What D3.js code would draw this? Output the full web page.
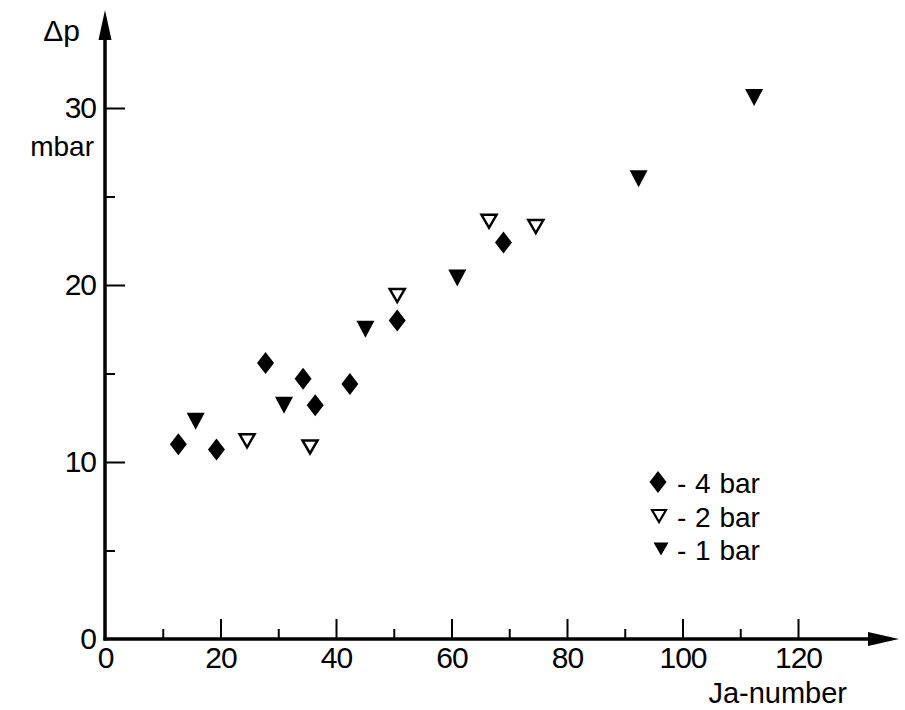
<html>
<head>
<meta charset="utf-8">
<title>Δp vs Ja-number</title>
<style>
  body { margin: 0; background: #fff; }
  text { font-family: "Liberation Sans", Arial, sans-serif; fill: #000; }
</style>
</head>
<body>
<script src="https://cdn.jsdelivr.net/npm/d3@7/dist/d3.min.js"></script>
<script>
var width = 905, height = 710;

// data
var ja4 = [12.7, 19.3, 27.8, 34.3, 36.4, 42.4, 50.6, 69.0];   // 4 bar, diamonds
var dp4 = [11.0, 10.7, 15.6, 14.7, 13.2, 14.4, 18.0, 22.4];
var ja2 = [24.6, 35.5, 50.6, 66.5, 74.6];                      // 2 bar, open triangles
var dp2 = [11.2, 10.85, 19.4, 23.6, 23.3];
var ja1 = [15.7, 31.0, 45.1, 61.0, 92.4, 112.4];               // 1 bar, filled triangles
var dp1 = [12.3, 13.2, 17.5, 20.4, 26.0, 30.6];

var xMajor = [0, 20, 40, 60, 80, 100, 120];
var xMinor = [10, 30, 50, 70, 90, 110];
var yMajor = [0, 10, 20, 30];
var yMinor = [5, 15, 25];

var legendLabels = ["- 4 bar", "- 2 bar", "- 1 bar"];

var svg = d3.select("body").append("svg")
    .attr("width", width)
    .attr("height", height);

var x = d3.scaleLinear().domain([0, 120]).range([105, 798]);
var y = d3.scaleLinear().domain([0, 30]).range([639, 108]);

// axis lines with arrows
svg.append("line")
    .attr("x1", x(0)).attr("y1", y(0) + 1.5)
    .attr("x2", x(0)).attr("y2", 36)
    .attr("stroke", "#000").attr("stroke-width", 3.5);
svg.append("path")
    .attr("d", "M" + x(0) + ",10 L" + (x(0) - 6.5) + ",40 L" + (x(0) + 6.5) + ",40 Z")
    .attr("fill", "#000");

svg.append("line")
    .attr("x1", x(0) - 1.5).attr("y1", y(0))
    .attr("x2", 872).attr("y2", y(0))
    .attr("stroke", "#000").attr("stroke-width", 3.5);
svg.append("path")
    .attr("d", "M899," + y(0) + " L868," + (y(0) - 7) + " L868," + (y(0) + 7) + " Z")
    .attr("fill", "#000");

// x axis ticks (pointing up)
var gx = svg.append("g")
    .attr("transform", "translate(0," + y(0) + ")")
    .call(d3.axisBottom(x).tickValues(xMajor).tickSize(-20).tickPadding(8));
svg.append("g")
    .attr("transform", "translate(0," + y(0) + ")")
    .call(d3.axisBottom(x).tickValues(xMinor).tickSize(-10).tickFormat(""));

// y axis ticks (pointing right)
var gy = svg.append("g")
    .attr("transform", "translate(" + x(0) + ",0)")
    .call(d3.axisLeft(y).tickValues(yMajor).tickSize(-20).tickPadding(9));
svg.append("g")
    .attr("transform", "translate(" + x(0) + ",0)")
    .call(d3.axisLeft(y).tickValues(yMinor).tickSize(-10).tickFormat(""));

svg.selectAll(".domain").remove();
svg.selectAll(".tick line").attr("stroke", "#000").attr("stroke-width", 2);
svg.selectAll(".tick text")
    .attr("font-size", 30)
    .attr("font-family", "Liberation Sans, Arial, sans-serif")
    .attr("letter-spacing", -1)
    .attr("fill", "#000");
gy.selectAll(".tick").filter(function (d) { return d === 0; }).select("line").remove();
gx.selectAll(".tick").filter(function (d) { return d === 0; }).select("line").remove();

// axis titles
svg.append("text").attr("x", 80).attr("y", 41)
    .attr("text-anchor", "end").attr("font-size", 30).text("Δp");
svg.append("text").attr("x", 94).attr("y", 156)
    .attr("text-anchor", "end").attr("font-size", 28).text("mbar");
svg.append("text").attr("x", 847).attr("y", 703)
    .attr("text-anchor", "end").attr("font-size", 29).text("Ja-number");

// marker shapes
function diamond(cx, cy) {
    return "M" + cx + "," + (cy - 11) + " L" + (cx + 8.5) + "," + cy +
        " L" + cx + "," + (cy + 11) + " L" + (cx - 8.5) + "," + cy + " Z";
}
function triangle(cx, cy, w, h) {
    return "M" + (cx - w / 2) + "," + (cy - h / 2) + " L" + (cx + w / 2) + "," + (cy - h / 2) +
        " L" + cx + "," + (cy + h / 2) + " Z";
}

var s4 = ja4.map(function (d, i) { return [d, dp4[i]]; });
var s2 = ja2.map(function (d, i) { return [d, dp2[i]]; });
var s1 = ja1.map(function (d, i) { return [d, dp1[i]]; });

svg.selectAll(".p4").data(s4).enter().append("path")
    .attr("class", "p4")
    .attr("d", function (d) { return diamond(x(d[0]), y(d[1])); })
    .attr("fill", "#000");

svg.selectAll(".p2").data(s2).enter().append("path")
    .attr("class", "p2")
    .attr("d", function (d) { return triangle(x(d[0]), y(d[1]), 15, 13); })
    .attr("fill", "#fff").attr("stroke", "#000").attr("stroke-width", 2.5)
    .attr("stroke-linejoin", "miter");

svg.selectAll(".p1").data(s1).enter().append("path")
    .attr("class", "p1")
    .attr("d", function (d) { return triangle(x(d[0]), y(d[1]), 18, 17); })
    .attr("fill", "#000");

// legend
var ly = [482, 516, 549];
svg.append("path").attr("d", diamond(658, ly[0])).attr("fill", "#000");
svg.append("path").attr("d", triangle(659, ly[1], 14, 12))
    .attr("fill", "#fff").attr("stroke", "#000").attr("stroke-width", 2.2);
svg.append("path").attr("d", triangle(661, ly[2], 15, 13)).attr("fill", "#000");

svg.selectAll(".leg").data(legendLabels).enter().append("text")
    .attr("class", "leg")
    .attr("x", 677)
    .attr("y", function (d, i) { return ly[i] + 11; })
    .attr("font-size", 28)
    .attr("word-spacing", 1)
    .text(function (d) { return d; });
</script>
</body>
</html>
